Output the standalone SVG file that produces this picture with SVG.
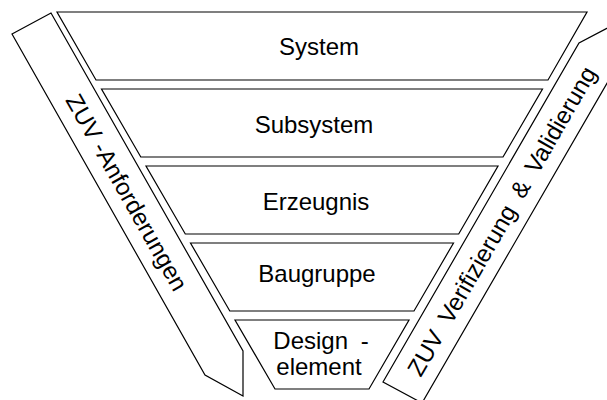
<svg xmlns="http://www.w3.org/2000/svg" width="607" height="400" viewBox="0 0 607 400">
  <style>
    .shape { fill: #ffffff; stroke: #000000; stroke-width: 1.2; stroke-linejoin: miter; }
    .label { font-family: "Liberation Sans", Arial, sans-serif; font-size: 24px; fill: #000000; text-anchor: middle; }
    .band-label { font-family: "Liberation Sans", Arial, sans-serif; font-size: 24px; fill: #000000; text-anchor: middle; dominant-baseline: central; }
  </style>
  <rect width="607" height="400" fill="#ffffff"/>

  <!-- left band: requirements, pointing down -->
  <g id="band-anforderungen">
    <polygon class="shape" points="12,34 51,13 243,351 243,396 205,375"/>
    <text class="band-label" transform="translate(127,192.3) rotate(60.5)">ZUV -Anforderungen</text>
  </g>

  <!-- right band: verification & validation, pointing up -->
  <g id="band-verifizierung">
    <polygon class="shape" points="383,382 579,43 617,23 617,66 422,403"/>
    <text class="band-label" word-spacing="6" transform="translate(501.6,221.1) rotate(-60)">ZUV Verifizierung &amp; Validierung</text>
  </g>

  <!-- funnel levels -->
  <g id="level-system">
    <polygon class="shape" points="57,12 587,12 548,80 96,80"/>
    <text class="label" x="319" y="55">System</text>
  </g>
  <g id="level-subsystem">
    <polygon class="shape" points="101.5,89 542.5,89 503,157 140.8,157"/>
    <text class="label" x="314" y="133">Subsystem</text>
  </g>
  <g id="level-erzeugnis">
    <polygon class="shape" points="146,166 498,166 458.7,234 185.3,234"/>
    <text class="label" x="316" y="210">Erzeugnis</text>
  </g>
  <g id="level-baugruppe">
    <polygon class="shape" points="190.5,243 453.5,243 414,311 229.8,311"/>
    <text class="label" x="317" y="282">Baugruppe</text>
  </g>
  <g id="level-designelement">
    <polygon class="shape" points="235,320 409,320 369,389 275,389"/>
    <text class="label" x="321" y="349" word-spacing="6">Design -</text>
    <text class="label" x="319" y="375">element</text>
  </g>

  <g id="connectors"/>
</svg>
